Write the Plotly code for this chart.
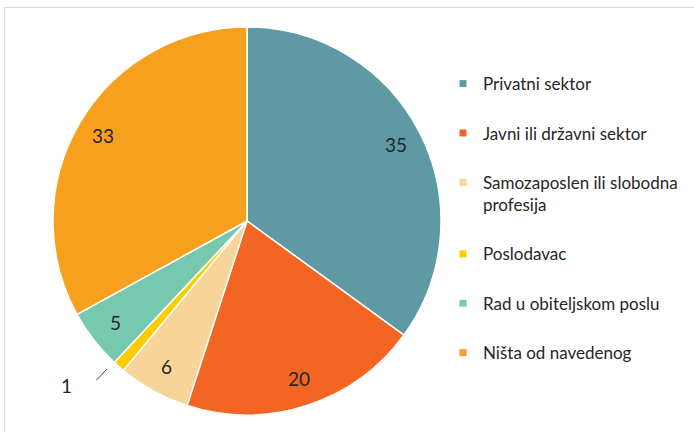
import math
import plotly.graph_objects as go

# Employment sector shares (%)
categories = [
    "Privatni sektor",
    "Javni ili državni sektor",
    "Samozaposlen ili slobodna<br>profesija",
    "Poslodavac",
    "Rad u obiteljskom poslu",
    "Ništa od navedenog",
]
values = [35, 20, 6, 1, 5, 33]
colors = ["#5F9AA4", "#F26522", "#F9D499", "#FFCC00", "#76C8AE", "#F7A01D"]

W, H = 694, 432
CX, CY, R = 247, 221, 194          # pie centre and radius in pixels
FONT = "Lato"
TEXT_COLOR = "#262626"


def px_to_paper(x, y):
    return x / W, 1 - y / H


fig = go.Figure()

fig.add_trace(go.Pie(
    labels=[c.replace("<br>", " ") for c in categories],
    values=values,
    marker=dict(colors=colors, line=dict(color="white", width=1.5)),
    sort=False,
    direction="clockwise",
    rotation=0,
    textinfo="none",
    showlegend=False,
    domain=dict(x=[(CX - R) / W, (CX + R) / W],
                y=[1 - (CY + R) / H, 1 - (CY - R) / H]),
))

# Legend entries, one group per category so the gap between rows can be set
for i, (name, col) in enumerate(zip(categories, colors)):
    fig.add_trace(go.Scatter(
        x=[None], y=[None], mode="markers", name=name,
        marker=dict(symbol="square", size=7, color=col),
        legendgroup=f"g{i}", hoverinfo="skip",
    ))

label_font = dict(size=19, color=TEXT_COLOR, family=FONT)

# Value labels placed along each slice's mid angle
total = sum(values)
annotations = []
shapes = []
cum = 0
for v, col in zip(values, colors):
    mid = (cum + v / 2) / total * 2 * math.pi
    cum += v
    if v / total >= 0.03:
        r = 0.86 * R
        x, y = px_to_paper(CX + r * math.sin(mid), CY - r * math.cos(mid) - 1)
        annotations.append(dict(x=x, y=y, xref="paper", yref="paper", text=str(v),
                                xanchor="center", yanchor="middle",
                                showarrow=False, font=label_font))
    else:
        # thin slice: label outside with a short leader line
        a = mid + math.radians(2)
        x0, y0 = px_to_paper(CX + 1.05 * R * math.sin(a), CY - 1.05 * R * math.cos(a))
        x1, y1 = px_to_paper(CX + 1.13 * R * math.sin(a), CY - 1.13 * R * math.cos(a))
        shapes.append(dict(type="line", xref="paper", yref="paper", x0=x0, y0=y0, x1=x1, y1=y1,
                           line=dict(color="#404040", width=1)))
        at = mid + math.radians(6.3)
        xt, yt = px_to_paper(CX + 1.26 * R * math.sin(at), CY - 1.26 * R * math.cos(at))
        annotations.append(dict(x=xt, y=yt, xref="paper", yref="paper", text=str(v),
                                xanchor="center", yanchor="middle",
                                showarrow=False, font=label_font))

# Chart frame
fx0, fy0 = px_to_paper(4.5, 7.5)
shapes.append(dict(type="rect", xref="paper", yref="paper", x0=fx0, y0=-0.1, x1=1.1, y1=fy0,
                   line=dict(color="#D9D9D9", width=1), layer="below"))

fig.update_layout(
    width=W, height=H,
    margin=dict(l=0, r=0, t=0, b=0),
    paper_bgcolor="white", plot_bgcolor="white",
    xaxis=dict(visible=False), yaxis=dict(visible=False),
    font=dict(family=FONT, color=TEXT_COLOR),
    legend=dict(
        x=443 / W, xanchor="left", y=1 - 66 / H, yanchor="top",
        font=dict(size=17, family=FONT, color=TEXT_COLOR),
        itemwidth=30, valign="top", tracegroupgap=24.3,
        bgcolor="rgba(0,0,0,0)",
    ),
    annotations=annotations,
    shapes=shapes,
)

fig.write_html("out.html")
